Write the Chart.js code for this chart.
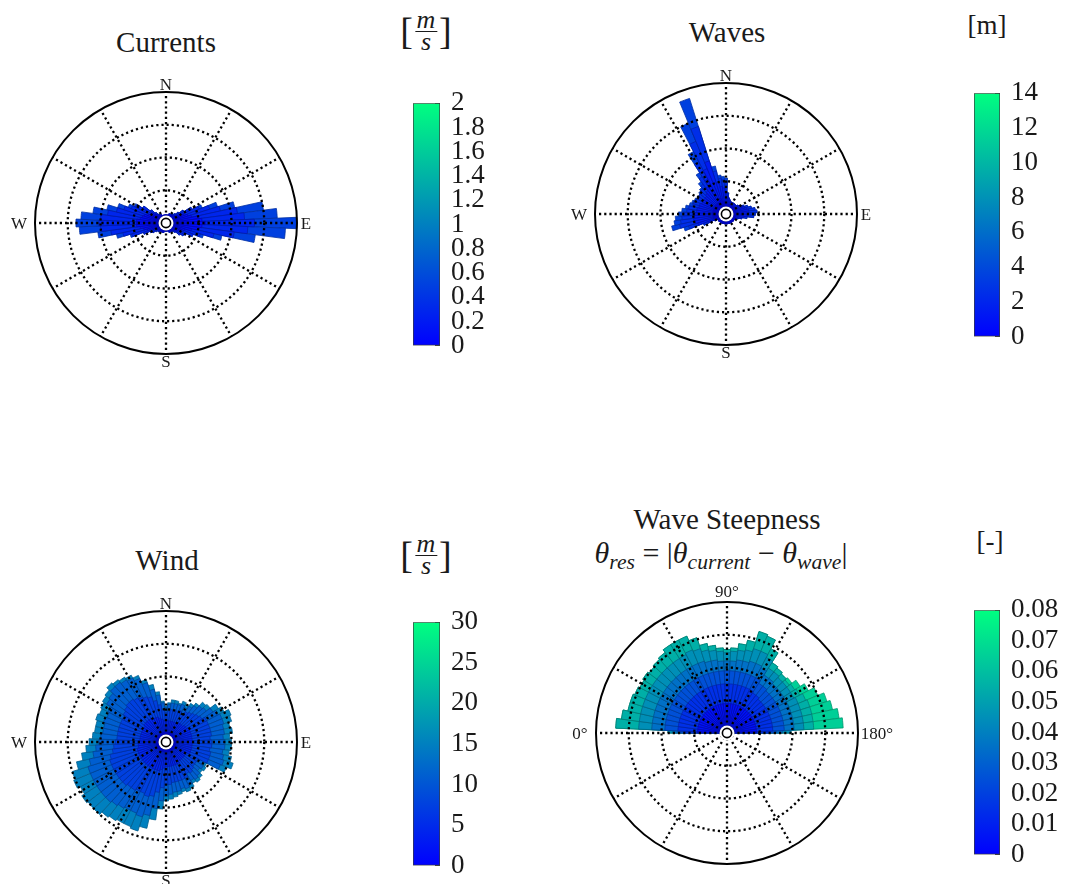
<!DOCTYPE html>
<html>
<head>
<meta charset="utf-8">
<title>Metocean roses</title>
<script src="https://cdn.jsdelivr.net/npm/chart.js@4.4.1/dist/chart.umd.min.js"></script>
<style>
  html, body { margin: 0; padding: 0; background: #fff; }
  #fig { position: relative; width: 1066px; height: 884px; overflow: hidden; background: #fff;
         font-family: 'Liberation Serif', 'Times New Roman', serif; color: #1a1a1a; }
  #fig canvas { position: absolute; }
  .lbl { position: absolute; transform: translate(-50%, -50%); white-space: nowrap; line-height: 1; }
  .title { font-size: 29px; }
  .dir { font-size: 17px; }
  .unit { display: flex; align-items: center; font-size: 27px; }
  .unit .br { font-size: 38px; line-height: 1; }
  .unit .frac { display: flex; flex-direction: column; align-items: center; margin: 0 2px; }
  .unit .frac i { display: block; font-size: 26px; line-height: 16px; height: 16px; }
  .unit .frac .rule { width: 22px; border-top: 1px solid #1a1a1a; margin: 3px 0 2px; }
  .formula { font-size: 30px; }
  .formula sub { font-size: 0.72em; font-style: italic; vertical-align: -0.3em; line-height: 0; }
</style>
</head>
<body>
<div id="fig">
  <canvas id="roseCurrents" width="300" height="300"></canvas>
  <canvas id="roseWaves" width="300" height="300"></canvas>
  <canvas id="roseWind" width="300" height="300"></canvas>
  <canvas id="roseSteep" width="300" height="300"></canvas>
  <canvas id="cbCurrents"></canvas>
  <canvas id="cbWaves"></canvas>
  <canvas id="cbWind"></canvas>
  <canvas id="cbSteep"></canvas>

  <div class="lbl title" style="left:166px;top:42px">Currents</div>
  <div class="lbl title" style="left:727px;top:32px">Waves</div>
  <div class="lbl title" style="left:167px;top:560px">Wind</div>
  <div class="lbl title" style="left:727px;top:519px">Wave Steepness</div>
  <div class="lbl formula" style="left:721px;top:553px"><i>θ</i><sub>res</sub> = |<i>θ</i><sub>current</sub> − <i>θ</i><sub>wave</sub>|</div>

  <div class="lbl unit" style="left:426px;top:31px"><span class="br">[</span><span class="frac"><i>m</i><span class="rule"></span><i>s</i></span><span class="br">]</span></div>
  <div class="lbl unit" style="left:987px;top:25px">[m]</div>
  <div class="lbl unit" style="left:426px;top:555px"><span class="br">[</span><span class="frac"><i>m</i><span class="rule"></span><i>s</i></span><span class="br">]</span></div>
  <div class="lbl unit" style="left:990px;top:541px">[-]</div>
</div>

<script>
// Direction bins: 5-degree sectors, bin i centred on i*5 degrees.
const dirBins = Array.from({ length: 72 }, (_, i) => i * 5);

// ---- Currents: frequency per direction bin for each speed class [m/s] ----
const currentClasses = [0.1, 0.3, 0.5];          // class mid-speeds (0-0.2, 0.2-0.4, 0.4-0.6)
const currentsB1 = [
  2.5, 2.5, 2.5, 2.5, 3, 3, 3, 3, 3, 3, 3.5, 4,
  5, 6, 7, 8, 10, 11, 12, 11, 10, 8, 6, 5,
  4.5, 4, 4, 3, 3, 3, 3, 3, 3, 2.5, 2.5, 2.5,
  2.5, 2.5, 2.5, 3, 3, 3, 3, 3, 3, 3, 3, 3.5,
  3.5, 4.5, 6, 7, 8, 9, 9, 9, 8, 7.5, 7, 6,
  5.5, 5, 4, 3.5, 3, 3, 3, 2.5, 2.5, 2.5, 2.5, 2.5
];
const currentsB2 = [
  0, 0, 0, 0, 0, 0, 0, 0.5, 0.5, 1, 1.5, 2.5,
  4, 5, 7, 9, 12, 13, 15, 14, 11, 7, 5, 4,
  2.5, 2.5, 1.5, 1, 0.5, 0, 0, 0, 0, 0, 0, 0,
  0, 0, 0, 0, 0, 0, 0, 0, 0.5, 0.5, 1, 1.5,
  2, 3, 5, 6.5, 9, 11, 11.5, 11, 10, 8, 6.5, 5.5,
  5, 3.5, 2, 1, 0.5, 0, 0, 0, 0, 0, 0, 0
];
const currentsB3 = [
  0, 0, 0, 0, 0, 0, 0, 0, 0, 0, 0, 0,
  0, 1, 2.5, 4.5, 8, 10, 13, 11.5, 6.5, 2.5, 1, 0,
  0, 0, 0, 0, 0, 0, 0, 0, 0, 0, 0, 0,
  0, 0, 0, 0, 0, 0, 0, 0, 0, 0, 0, 0,
  0, 0, 0.5, 2, 4, 6.5, 7, 6, 4.5, 3, 2, 1,
  0.5, 0, 0, 0, 0, 0, 0, 0, 0, 0, 0, 0
];

// ---- Waves: frequency per direction bin for each height class [m] ----
const waveClasses = [0.5, 1.5, 2.5, 3.5];
const wavesB1 = [
  3, 3, 3, 3, 3, 3, 3, 3, 3, 3, 3, 3,
  3, 3, 3, 3, 3, 3, 3, 3, 3, 3, 3, 3,
  3, 3, 3, 3, 3, 3, 3, 3, 3, 3, 3, 3,
  3, 3, 3, 3, 3, 3, 3, 3, 3, 3, 3, 3,
  3, 3, 4, 4, 4, 4, 4, 4, 4, 4, 4, 4,
  4, 4, 4, 4, 4, 4, 4, 5, 5, 4, 4, 3.5
];
const wavesB2 = [
  4, 2.5, 2, 1.5, 1, 1, 1, 1, 1, 1, 1, 1.5,
  2, 2.5, 3, 3.5, 4, 4, 4, 3.5, 2.5, 2, 1, 0.5,
  0, 0, 0, 0, 0, 0, 0, 0, 0, 0, 0, 0,
  0, 0, 0, 0, 0, 0, 0, 0, 0, 0, 0, 0,
  1, 3, 5, 6, 6, 6, 5.5, 5, 5, 4.5, 4.5, 4,
  4, 4, 4, 4.5, 5, 6, 8, 10, 12, 6, 4.5, 4.5
];
const wavesB3 = [
  3, 1, 0, 0, 0, 0, 0, 0, 0, 0, 0, 0,
  0, 0.5, 1, 1.5, 2, 2.5, 2, 2, 1, 0, 0, 0,
  0, 0, 0, 0, 0, 0, 0, 0, 0, 0, 0, 0,
  0, 0, 0, 0, 0, 0, 0, 0, 0, 0, 0, 0,
  0, 1.5, 3, 4.5, 4, 3.5, 3.5, 3, 2.5, 2, 2, 2,
  2, 2, 2, 2, 2.5, 3.5, 6, 9, 11, 3.5, 2.5, 2.5
];
const wavesB4 = [
  1, 0, 0, 0, 0, 0, 0, 0, 0, 0, 0, 0,
  0, 0, 0, 0, 0, 0, 0, 0, 0, 0, 0, 0,
  0, 0, 0, 0, 0, 0, 0, 0, 0, 0, 0, 0,
  0, 0, 0, 0, 0, 0, 0, 0, 0, 0, 0, 0,
  0, 0, 1.5, 2.5, 2, 2, 1.5, 1.5, 1, 1, 0.5, 0.5,
  0, 0, 0.5, 0.5, 1, 1.5, 3.5, 6, 9, 1.5, 1, 1
];

// ---- Wind: frequency per direction bin for each speed class [m/s] ----
const windClasses = [1.5, 4.5, 7.5, 11, 15];
const windB1 = [
  3, 3, 3, 3, 3, 3, 3, 3, 3, 3, 3, 3,
  3, 3, 3, 3, 3, 3, 3, 3, 3, 3, 3, 3,
  3, 3, 3, 3, 3, 3, 3, 3, 3, 3, 3, 3,
  3, 3, 3, 3, 3, 3, 3, 3, 3, 3, 3, 3,
  3, 3, 3, 3, 3, 3, 3, 3, 3, 3, 3, 3,
  3, 3, 3, 3, 3, 3, 3, 3, 3, 3, 3, 3
];
const windB2 = [
  3, 3.5, 3.5, 3.5, 3.5, 3.5, 3.5, 4, 4, 4, 4.5, 4.5,
  5, 5, 5, 5, 5, 5, 5, 5, 5, 5, 5, 5,
  4, 4, 4, 4, 4, 4, 4.5, 4.5, 4.5, 4.5, 4.5, 4.5,
  4.5, 5, 5.5, 6, 6, 6, 6, 6, 6, 6, 6, 6,
  6, 6, 6, 6, 5.5, 5.5, 5.5, 5, 5, 5, 5, 5,
  5, 5, 5.5, 5.5, 5.5, 5.5, 5, 5, 5, 4.5, 4, 3.5
];
const windB3 = [
  3, 3, 3.5, 3.5, 3.5, 4, 3.5, 4, 4.5, 5, 5, 5.5,
  6, 6, 6, 6, 6, 5.5, 6, 6, 5.5, 6, 6, 6,
  4, 4, 4, 4.5, 5, 4.5, 5, 5, 5, 5, 5, 5.5,
  5.5, 6, 7, 8, 8.5, 8, 8, 8.5, 8.5, 9, 9, 9,
  9, 9, 9, 8.5, 8, 7.5, 7, 7, 7, 7, 7, 7,
  7, 7.5, 7.5, 8, 8, 7.5, 7.5, 7, 6.5, 5.5, 4.5, 3.5
];
const windB4 = [
  1.5, 2, 2, 2, 2, 2, 2, 2, 2.5, 3, 3, 4,
  4, 4.5, 4.5, 4, 4, 4, 4, 4, 4, 4, 4.5, 4,
  2, 2.5, 2, 2.5, 2.5, 2.5, 2.5, 3, 2.5, 3, 3, 3,
  3.5, 4, 5, 6, 6.5, 6.5, 6.5, 6.5, 7, 7, 7, 7,
  7, 7, 7, 6.5, 6, 5.5, 5, 5, 4.5, 4.5, 5, 4.5,
  5, 6, 6, 6.5, 6.5, 6.5, 6.5, 6, 4.5, 3.5, 3, 2
];
const windB5 = [
  0.5, 0.5, 1, 1, 0.5, 1, 1, 1, 1, 1.5, 1.5, 2,
  2, 3, 2.5, 2, 2.5, 2, 2, 2, 2, 2.5, 3, 2,
  1, 1, 1, 1, 1, 1, 1, 1, 1, 1, 1.5, 1.5,
  1.5, 2.5, 3.5, 4, 4.5, 4.5, 4.5, 4.5, 4.5, 5, 5, 5.5,
  4.5, 5.5, 5, 4, 3.5, 3, 3, 2.5, 2.5, 2.5, 2.5, 2.5,
  2.5, 1.5, 1.5, 1.5, 1, 1, 1, 1, 1, 1.5, 1, 0.5
];

// ---- Wave steepness vs. relative angle, bins centred on 0, 5, ..., 180 deg ----
// (the 0 and 180 deg bins only cover the half-sector inside 0-180)
const steepClasses = [0.005, 0.015, 0.025, 0.035, 0.045, 0.055, 0.065];
const steepB1 = [
  9, 9, 9, 9, 9, 9, 9, 9, 9, 9, 9, 9,
  9, 9, 9, 9, 9, 9, 9, 9, 9, 9, 9, 9,
  9, 9, 9, 9, 9, 9, 9, 9, 9, 9, 9, 9,
  9
];
const steepB2 = [
  4, 6, 6, 6, 6, 6, 6, 6, 6, 6, 6, 6,
  6, 6, 6, 6, 6, 6, 6, 6, 6, 6, 6, 6,
  6, 5.5, 5.5, 5, 5, 5, 5, 5, 5, 5, 5, 5,
  4
];
const steepB3 = [
  2, 4, 4, 4, 4, 4, 4, 4, 4, 4, 4, 4,
  4, 4, 4, 4, 4, 4, 4, 4, 4, 4, 4, 4,
  4, 3.5, 3.5, 3.5, 3.5, 3.5, 3.5, 3.5, 3.5, 3.5, 3.5, 3.5,
  2
];
const steepB4 = [
  1.5, 4, 4, 4, 4, 4, 4, 4, 4, 4, 4, 4,
  4, 4, 4, 3.5, 3.5, 3, 3, 3, 3.5, 3.5, 4, 4,
  3.5, 3, 3, 3, 3, 3, 3, 3, 3, 3, 3, 3,
  2
];
const steepB5 = [
  1.5, 4, 4, 4, 4, 4, 4, 4, 4, 4, 4, 4,
  4, 4.5, 4, 3.5, 3, 3, 2.5, 3, 3, 3.5, 4, 4,
  3.5, 2.5, 2.5, 2.5, 2.5, 2.5, 2.5, 3, 3, 3, 3, 3,
  2.5
];
const steepB6 = [
  0, 7, 5.5, 4, 4, 3.5, 3, 3.5, 3, 3.5, 4, 5,
  5, 4.5, 3.5, 2, 1.5, 1, 1, 1, 2, 3, 5.5, 5,
  3, 2, 1.5, 1.5, 1, 1.5, 2, 2.5, 3, 3, 3, 3,
  0
];
const steepB7 = [
  0, 0, 0, 0, 0, 0, 0, 0, 0, 0, 0, 0,
  0, 0, 0, 0, 0, 0, 0, 0, 0, 0, 0, 0,
  0, 0, 0, 0, 1, 2, 3, 4, 5.5, 6.5, 8, 9,
  0
];

// ---- Colour-bar tick values ----
const currentTicks = [0, 0.2, 0.4, 0.6, 0.8, 1, 1.2, 1.4, 1.6, 1.8, 2];
const waveTicks = [0, 2, 4, 6, 8, 10, 12, 14];
const windTicks = [0, 5, 10, 15, 20, 25, 30];
const steepTicks = [0, 0.01, 0.02, 0.03, 0.04, 0.05, 0.06, 0.07, 0.08];

// ---- Direction labels around the roses ----
const compassLabels = ['N', 'E', 'S', 'W'];
const angleLabels = ['90°', '180°', '0°'];

// "winter" colour map: blue -> spring green
const winter = t => [0, Math.round(255 * t), Math.round(255 * (1 - t / 2))];
const rgb = c => `rgb(${c[0]},${c[1]},${c[2]})`;
const shade = (c, f) => c.map(v => Math.round(v * f));

const DOTS = [2.2, 3];

// Dotted spokes every 30 degrees plus the white hub in the middle
const hubPlugin = {
  id: 'hub',
  afterDraw(chart) {
    const s = chart.scales.r;
    const ctx = chart.ctx;
    ctx.save();
    ctx.strokeStyle = '#000';
    ctx.lineWidth = 2.3;
    ctx.setLineDash(DOTS);
    for (let k = 0; k < 12; k++) {
      const a = (k * 30 - 90) * Math.PI / 180;
      ctx.beginPath();
      ctx.moveTo(s.xCenter, s.yCenter);
      ctx.lineTo(s.xCenter + s.drawingArea * Math.cos(a), s.yCenter + s.drawingArea * Math.sin(a));
      ctx.stroke();
    }
    ctx.setLineDash([]);
    ctx.fillStyle = '#fff';
    ctx.beginPath();
    ctx.arc(s.xCenter, s.yCenter, 7.5, 0, 2 * Math.PI);
    ctx.fill();
    ctx.lineWidth = 1.6;
    ctx.strokeStyle = '#000';
    ctx.beginPath();
    ctx.arc(s.xCenter, s.yCenter, 4.6, 0, 2 * Math.PI);
    ctx.stroke();
    ctx.restore();
  }
};

// Stacked rose: each class is drawn as a polar-area dataset holding the
// running total, smallest total on top.
function rose(id, cx, cy, bands, classes, cmax, startAngle, halfEnds) {
  const el = document.getElementById(id);
  el.style.left = (cx - 150) + 'px';
  el.style.top = (cy - 150) + 'px';
  const cum = [];
  let run = null;
  bands.forEach(b => {
    run = b.map((v, i) => (run ? run[i] : 0) + v);
    cum.push(run);
  });
  const sector = 360 / dirBins.length;
  const last = bands[0].length - 1;
  const angle = c => (halfEnds && (c.dataIndex === 0 || c.dataIndex === last)) ? sector / 2 : sector;
  const datasets = cum.map((d, k) => {
    const c = winter(classes[k] / cmax);
    return {
      data: d, angle,
      backgroundColor: rgb(c), borderColor: rgb(shade(c, 0.72)), borderWidth: 0.8
    };
  });
  new Chart(el, {
    type: 'polarArea',
    data: { labels: dirBins.map(String), datasets },
    options: {
      responsive: false,
      animation: false,
      events: [],
      layout: { padding: 19 },
      plugins: { legend: { display: false }, tooltip: { enabled: false } },
      scales: {
        r: {
          min: 0, max: 40, startAngle,
          ticks: { display: false, stepSize: 10 },
          pointLabels: { display: false },
          angleLines: { display: false },
          grid: { z: 1, circular: true, color: '#000', lineWidth: c => (c.tick && c.tick.value >= 40) ? 2 : 2.3 },
          border: { dash: c => (c.tick && c.tick.value >= 40) ? [] : DOTS }
        }
      }
    },
    plugins: [hubPlugin]
  });
}

// Vertical colour bar with the value axis on its right
function colorBar(id, ticks, left, top, w, h) {
  const el = document.getElementById(id);
  const axisW = 70, padL = 13;
  const cTop = Math.floor(top) - 25;
  el.width = padL + w + axisW;
  el.height = Math.ceil(h + 52);
  el.style.left = (left - padL) + 'px';
  el.style.top = cTop + 'px';
  const padT = top - cTop;
  const padB = el.height - padT - h;
  const lo = ticks[0], hi = ticks[ticks.length - 1];
  new Chart(el, {
    type: 'bar',
    data: {
      labels: [''],
      datasets: [{
        data: [[lo, hi]],
        backgroundColor: ctx => {
          const area = ctx.chart.chartArea;
          if (!area) return 'rgb(0,128,191)';
          const g = ctx.chart.ctx.createLinearGradient(0, area.bottom, 0, area.top);
          g.addColorStop(0, rgb(winter(0)));
          g.addColorStop(1, rgb(winter(1)));
          return g;
        },
        borderColor: '#3a3a3a',
        borderWidth: 1,
        borderSkipped: false,
        barPercentage: 1,
        categoryPercentage: 1
      }]
    },
    options: {
      responsive: false,
      animation: false,
      events: [],
      layout: { padding: { left: padL, right: 0, top: padT, bottom: padB } },
      plugins: { legend: { display: false }, tooltip: { enabled: false } },
      scales: {
        x: { display: false },
        y: {
          position: 'right', min: lo, max: hi,
          afterBuildTicks: a => { a.ticks = ticks.map(v => ({ value: v })); },
          afterFit: a => { a.width = axisW; },
          border: { display: false },
          grid: { drawOnChartArea: false, drawTicks: true, tickLength: -5, color: '#444', lineWidth: 1 },
          ticks: {
            autoSkip: false, padding: 16, color: '#1a1a1a',
            font: { family: 'Liberation Serif', size: 27 },
            callback: v => String(v)
          }
        }
      }
    }
  });
}

// Text labels placed around a rose
function ringLabels(labels, offsets, cx, cy) {
  const fig = document.getElementById('fig');
  labels.forEach((t, k) => {
    const d = document.createElement('div');
    d.className = 'lbl dir';
    d.textContent = t;
    d.style.left = (cx + offsets[k][0]) + 'px';
    d.style.top = (cy + offsets[k][1]) + 'px';
    fig.appendChild(d);
  });
}

const compassOffsets = [[0, -139], [140, 0], [0, 138], [-147, 0]];

rose('roseCurrents', 166, 223, [currentsB1, currentsB2, currentsB3], currentClasses, 2, -2.5, false);
rose('roseWaves', 726, 214, [wavesB1, wavesB2, wavesB3, wavesB4], waveClasses, 14, -2.5, false);
rose('roseWind', 166, 742, [windB1, windB2, windB3, windB4, windB5], windClasses, 30, -2.5, false);
rose('roseSteep', 727, 733, [steepB1, steepB2, steepB3, steepB4, steepB5, steepB6, steepB7], steepClasses, 0.08, -90, true);

ringLabels(compassLabels, compassOffsets, 166, 223);
ringLabels(compassLabels, compassOffsets, 726, 214);
ringLabels(compassLabels, compassOffsets, 166, 742);
ringLabels(angleLabels, [[0, -142], [150, 0], [-147, 0]], 727, 733);

colorBar('cbCurrents', currentTicks, 413, 96.5, 27, 255);
colorBar('cbWaves', waveTicks, 974, 86, 26, 256);
colorBar('cbWind', windTicks, 413, 615, 27, 256);
colorBar('cbSteep', steepTicks, 974, 603, 26, 257);
</script>
</body>
</html>
